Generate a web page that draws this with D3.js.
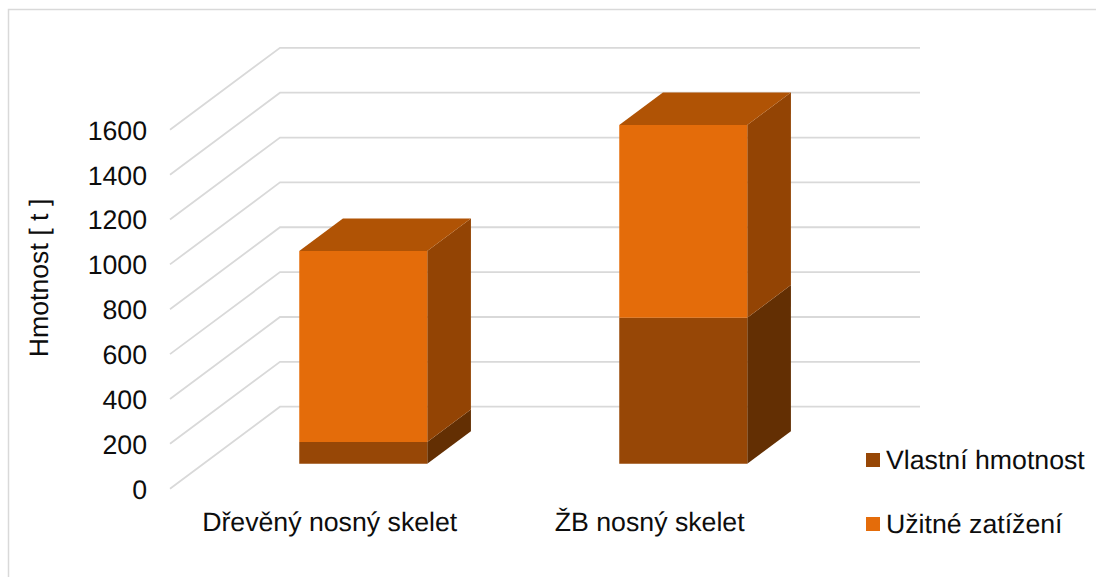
<!DOCTYPE html>
<html lang="cs">
<head>
<meta charset="utf-8">
<script src="https://cdn.jsdelivr.net/npm/d3@7"></script>
<style>
  html, body { margin: 0; padding: 0; background: #fff; }
  svg { display: block; }
  text { font-family: "Liberation Sans", Arial, sans-serif; fill: #0d0d0d; text-rendering: geometricPrecision; }
</style>
</head>
<body>
<svg id="chart" width="1096" height="577"></svg>
<script>
// Chart content
const categories = ["Dřevěný nosný skelet", "ŽB nosný skelet"];
const seriesNames = ["Vlastní hmotnost", "Užitné zatížení"];
const vlastniHmotnost = [97, 651];
const uzitneZatizeni = [851, 859];
const tickValues = [0, 200, 400, 600, 800, 1000, 1200, 1400, 1600];
const axisTitle = "Hmotnost [ t ]";

// Face colours per series
const frontColors = ["#974706", "#e46c0a"];
const sideColors = ["#632f03", "#934404"];
const topColors = ["#7a3a05", "#b05305"];
const labelSize = "26.7px";

const svg = d3.select("#chart");
const W = 1096, H = 577;

// Outer frame: only the top and left edges fall inside the canvas
svg.append("path")
  .attr("d", `M8.5,${H} V9.5 H${W}`)
  .attr("fill", "none")
  .attr("stroke", "#d9d9d9")
  .attr("stroke-width", 1.5);

// Oblique projection: depth 0 is the front of the floor, 1 the back wall
const floorDX = 110, floorDY = -82;
const y = d3.scaleLinear().domain([0, 1600]).range([488.7, 129.8]);
const x = d3.scaleBand().domain(categories).range([169.7, 809.7])
  .paddingInner(0.6).paddingOuter(0.3);
const project = (px, value, depth) => [px + floorDX * depth, y(value) + floorDY * depth];

const barDepthStart = 0.305, barDepthEnd = 0.702;

// Gridlines run up the side wall and then across the back wall
const wallLeft = 170, wallRight = 810;
const grid = svg.append("g");
grid.selectAll("path").data(tickValues).join("path")
  .attr("d", v => d3.line()([
    project(wallLeft, v, 0),
    project(wallLeft, v, 1),
    project(wallRight, v, 1)
  ]))
  .attr("fill", "none")
  .attr("stroke", "#d9d9d9")
  .attr("stroke-width", 1.8);

// Value axis: labels only
const axis = svg.append("g")
  .attr("transform", "translate(153,0)")
  .call(d3.axisLeft(y).tickValues(tickValues).tickSize(0).tickPadding(6).tickFormat(d3.format("d")));
axis.select(".domain").remove();
axis.selectAll("text")
  .attr("font-family", null)
  .style("font-size", labelSize)
  .attr("dy", "0.35em");

svg.append("text")
  .attr("transform", "translate(48,278) rotate(-90)")
  .attr("text-anchor", "middle")
  .style("font-size", labelSize)
  .text(axisTitle);

// Stacked boxes, drawn from the values through the projection above
const stack = d3.stack().keys([0, 1]).value((d, k) => d[k]);
const rows = categories.map((c, i) => [vlastniHmotnost[i], uzitneZatizeni[i]]);
const layers = stack(rows);
const poly = pts => d3.line()(pts) + "Z";

categories.forEach((cat, ci) => {
  const g = svg.append("g");
  const x0 = x(cat), x1 = x0 + x.bandwidth();
  layers.forEach((layer, si) => {
    const [v0, v1] = layer[ci];
    const a = barDepthStart, b = barDepthEnd;
    g.append("path")
      .attr("d", poly([project(x1, v0, a), project(x1, v0, b), project(x1, v1, b), project(x1, v1, a)]))
      .attr("fill", sideColors[si]);
    if (si === layers.length - 1) {
      g.append("path")
        .attr("d", poly([project(x0, v1, a), project(x0, v1, b), project(x1, v1, b), project(x1, v1, a)]))
        .attr("fill", topColors[si]);
    }
    g.append("path")
      .attr("d", poly([project(x0, v0, a), project(x1, v0, a), project(x1, v1, a), project(x0, v1, a)]))
      .attr("fill", frontColors[si]);
  });
});

// Category labels
svg.append("g").selectAll("text").data(categories).join("text")
  .attr("x", c => x(c) + x.bandwidth() / 2)
  .attr("y", 531)
  .attr("text-anchor", "middle")
  .style("font-size", labelSize)
  .text(c => c);

// Legend
const legendRows = [460, 524];
const legend = svg.append("g").selectAll("g").data(seriesNames).join("g")
  .attr("transform", (d, i) => `translate(866,${legendRows[i]})`);
legend.append("rect")
  .attr("x", 0).attr("y", -7).attr("width", 14).attr("height", 14)
  .attr("fill", (d, i) => frontColors[i]);
legend.append("text")
  .attr("x", 20).attr("y", 8.7)
  .style("font-size", labelSize)
  .text(d => d);
</script>
</body>
</html>
